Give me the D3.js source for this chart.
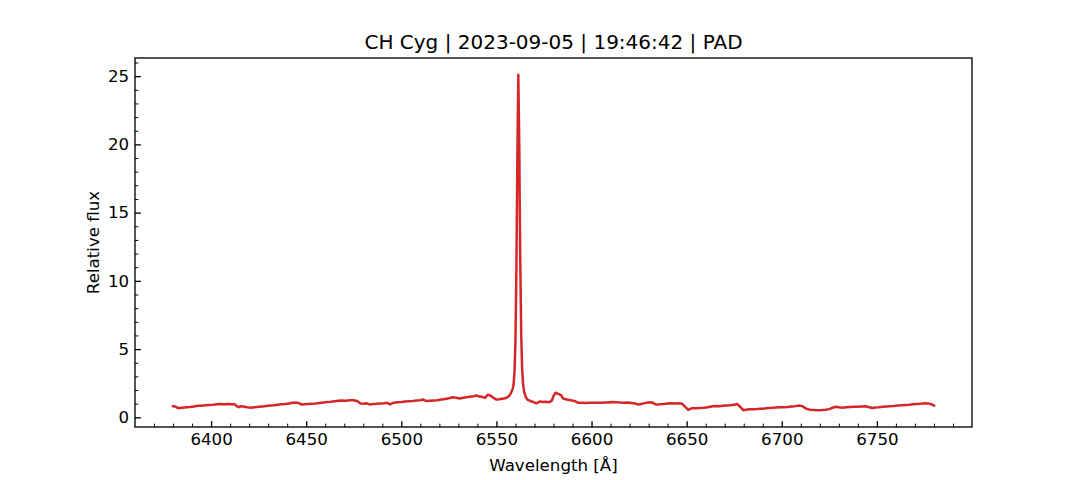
<!DOCTYPE html>
<html>
<head>
<meta charset="utf-8">
<script src="https://cdn.jsdelivr.net/npm/d3@7"></script>
<style>
  html, body { margin: 0; padding: 0; background: #fff; }
  svg { display: block; font-family: "DejaVu Sans", sans-serif; }
</style>
</head>
<body>
<svg id="chart" width="1080" height="480"></svg>
<script>
const title = "CH Cyg | 2023-09-05 | 19:46:42 | PAD";
const xLabel = "Wavelength [Å]";
const yLabel = "Relative flux";

const xTicks = [6400, 6450, 6500, 6550, 6600, 6650, 6700, 6750];
const yTicks = [0, 5, 10, 15, 20, 25];

const wavelength = [
  6380, 6381, 6382, 6383, 6385, 6387, 6389, 6391, 6393, 6395, 6397, 6399,
  6401, 6403, 6405, 6407, 6409, 6411, 6412.5, 6413.5, 6414.5, 6415.5, 6417, 6419,
  6421, 6423, 6425, 6427, 6429, 6431, 6433, 6435, 6437, 6439, 6441, 6443,
  6445, 6446.5, 6447.5, 6449, 6451, 6453, 6455, 6457, 6459, 6461, 6463, 6465,
  6467, 6469, 6471, 6473, 6475, 6477, 6478.5, 6480.5, 6482, 6483.5, 6485, 6487,
  6489, 6491, 6492.5, 6494, 6496, 6498, 6500, 6502, 6504, 6506, 6508, 6510,
  6511.5, 6513, 6515, 6517, 6519, 6521, 6523, 6525, 6527, 6529, 6530.5, 6532,
  6534, 6536, 6538, 6539.5, 6541, 6542.5, 6544, 6545.5, 6547, 6548.5, 6550, 6551.5,
  6553, 6554.5, 6555.5, 6556.5, 6557.5, 6558.5, 6559, 6559.5, 6560, 6560.5, 6561, 6561.5,
  6562, 6562.5, 6563, 6563.5, 6564, 6564.5, 6565.5, 6566.5, 6568, 6569.5, 6571, 6572,
  6573, 6574.5, 6576, 6577.5, 6579, 6580, 6581, 6582.5, 6584, 6585, 6587, 6589,
  6591, 6593, 6595, 6597, 6599, 6601, 6603, 6605, 6607, 6609, 6611, 6613,
  6615, 6617, 6619, 6621, 6623, 6624.5, 6626, 6628, 6630.5, 6632, 6634, 6636,
  6638, 6640, 6642, 6644, 6646, 6647.5, 6649, 6650.8, 6652.5, 6655, 6657, 6659,
  6661, 6663, 6665, 6667, 6669, 6671, 6673, 6675, 6676.5, 6678, 6679.8, 6681,
  6683, 6685, 6687, 6689, 6691, 6693, 6695, 6697, 6699, 6701, 6703, 6705,
  6707, 6709.5, 6711, 6713, 6715, 6717, 6719, 6721, 6723, 6725, 6727, 6728.5,
  6730, 6732, 6734, 6736, 6738, 6740, 6742, 6744, 6746, 6747.5, 6749, 6751,
  6753, 6755, 6757, 6759, 6761, 6763, 6765, 6767, 6769, 6771, 6773, 6775,
  6777, 6778.5, 6780
];
const flux = [
  0.82, 0.80, 0.72, 0.68, 0.71, 0.74, 0.76, 0.80, 0.84, 0.85, 0.88, 0.90,
  0.92, 0.95, 0.97, 0.96, 0.98, 0.96, 0.95, 0.82, 0.74, 0.82, 0.80, 0.74,
  0.71, 0.74, 0.77, 0.80, 0.83, 0.86, 0.88, 0.92, 0.95, 0.98, 1.02, 1.06,
  1.08, 1.02, 0.93, 0.96, 0.98, 1.00, 1.02, 1.05, 1.08, 1.12, 1.14, 1.18,
  1.22, 1.24, 1.22, 1.26, 1.25, 1.18, 1.02, 1.00, 1.03, 0.93, 0.97, 0.99,
  1.02, 1.04, 1.06, 0.95, 1.07, 1.10, 1.12, 1.16, 1.18, 1.20, 1.23, 1.25,
  1.30, 1.20, 1.22, 1.24, 1.25, 1.30, 1.35, 1.40, 1.47, 1.43, 1.38, 1.42,
  1.47, 1.50, 1.55, 1.60, 1.52, 1.50, 1.42, 1.66, 1.58, 1.42, 1.30, 1.32,
  1.36, 1.40, 1.45, 1.55, 1.75, 2.05, 2.40, 3.30, 5.60, 10.8, 19.0, 25.1,
  20.0, 11.8, 6.30, 3.60, 2.45, 1.90, 1.45, 1.28, 1.18, 1.12, 1.03, 1.10,
  1.17, 1.12, 1.14, 1.10, 1.20, 1.55, 1.80, 1.72, 1.62, 1.38, 1.30, 1.25,
  1.20, 1.06, 1.07, 1.05, 1.07, 1.06, 1.07, 1.06, 1.08, 1.09, 1.12, 1.10,
  1.08, 1.07, 1.08, 1.05, 1.02, 0.93, 0.98, 1.04, 1.10, 1.08, 0.93, 0.96,
  0.98, 1.02, 1.03, 1.02, 1.03, 1.00, 0.80, 0.55, 0.66, 0.66, 0.68, 0.70,
  0.74, 0.80, 0.83, 0.82, 0.84, 0.86, 0.88, 0.92, 0.98, 0.78, 0.52, 0.56,
  0.59, 0.60, 0.61, 0.63, 0.65, 0.68, 0.70, 0.72, 0.74, 0.74, 0.76, 0.80,
  0.82, 0.86, 0.80, 0.62, 0.56, 0.54, 0.52, 0.53, 0.56, 0.60, 0.72, 0.78,
  0.74, 0.71, 0.73, 0.75, 0.77, 0.78, 0.80, 0.81, 0.74, 0.68, 0.72, 0.74,
  0.77, 0.79, 0.81, 0.83, 0.86, 0.88, 0.90, 0.92, 0.96, 0.98, 1.00, 1.03,
  1.02, 0.96, 0.86
];

const data = wavelength.map((w, i) => ({ w, f: flux[i] }));

const svg = d3.select("#chart");
const box = { left: 135, top: 58, right: 972, bottom: 427 };
const PT = 120 / 72;

// matplotlib-style 5% margins
const xExt = d3.extent(wavelength), yExt = d3.extent(flux);
const xPad = (xExt[1] - xExt[0]) * 0.05, yPad = (yExt[1] - yExt[0]) * 0.05;
const x = d3.scaleLinear().domain([xExt[0] - xPad, xExt[1] + xPad]).range([box.left, box.right]);
const y = d3.scaleLinear().domain([yExt[0] - yPad, yExt[1] + yPad]).range([box.bottom, box.top]);

const xMinor = d3.range(6370, 6800, 10).filter(v => v % 50 !== 0);
const yMinor = d3.range(0, 27, 1).filter(v => v % 5 !== 0);

// clip
svg.append("defs").append("clipPath").attr("id", "clip")
  .append("rect").attr("x", box.left).attr("y", box.top)
  .attr("width", box.right - box.left).attr("height", box.bottom - box.top);

// line
const line = d3.line().x(d => x(d.w)).y(d => y(d.f));
svg.append("path").datum(data)
  .attr("clip-path", "url(#clip)")
  .attr("d", line)
  .attr("fill", "none")
  .attr("stroke", "#d62728")
  .attr("stroke-width", 1.5 * PT)
  .attr("stroke-linejoin", "round")
  .attr("stroke-linecap", "square");

// axes
const fontPx = 10 * PT;
const xAxis = d3.axisBottom(x).tickValues(xTicks).tickFormat(d3.format("d"))
  .tickSizeInner(-3.5 * PT).tickSizeOuter(0).tickPadding(3.5 * PT);
const gx = svg.append("g").attr("transform", `translate(0,${box.bottom})`).call(xAxis);
const xAxisMinor = d3.axisBottom(x).tickValues(xMinor).tickFormat("")
  .tickSizeInner(-2 * PT).tickSizeOuter(0);
const gxm = svg.append("g").attr("transform", `translate(0,${box.bottom})`).call(xAxisMinor);

const yAxis = d3.axisLeft(y).tickValues(yTicks).tickFormat(d3.format("d"))
  .tickSizeInner(-3.5 * PT).tickSizeOuter(0).tickPadding(3.5 * PT);
const gy = svg.append("g").attr("transform", `translate(${box.left},0)`).call(yAxis);
const yAxisMinor = d3.axisLeft(y).tickValues(yMinor).tickFormat("")
  .tickSizeInner(-2 * PT).tickSizeOuter(0);
const gym = svg.append("g").attr("transform", `translate(${box.left},0)`).call(yAxisMinor);

[gx, gxm, gy, gym].forEach(g => {
  g.select(".domain").remove();
  g.selectAll("text").attr("font-size", fontPx).attr("font-family", "DejaVu Sans").attr("fill", "#000");
});
[gx, gy].forEach(g => g.selectAll(".tick line").attr("stroke", "#000").attr("stroke-width", 0.8 * PT));
[gxm, gym].forEach(g => g.selectAll(".tick line").attr("stroke", "#000").attr("stroke-width", 0.6 * PT));

// frame
svg.append("rect")
  .attr("x", box.left).attr("y", box.top)
  .attr("width", box.right - box.left).attr("height", box.bottom - box.top)
  .attr("fill", "none").attr("stroke", "#000").attr("stroke-width", 0.8 * PT);

// labels
svg.append("text")
  .attr("x", (box.left + box.right) / 2).attr("y", 49)
  .attr("text-anchor", "middle").attr("font-size", 12 * PT)
  .attr("font-family", "DejaVu Sans").text(title);

svg.append("text")
  .attr("x", (box.left + box.right) / 2).attr("y", 471)
  .attr("text-anchor", "middle").attr("font-size", fontPx)
  .attr("font-family", "DejaVu Sans").text(xLabel);

svg.append("text")
  .attr("transform", `translate(99,${(box.top + box.bottom) / 2}) rotate(-90)`)
  .attr("text-anchor", "middle").attr("font-size", fontPx)
  .attr("font-family", "DejaVu Sans").text(yLabel);
</script>
</body>
</html>
